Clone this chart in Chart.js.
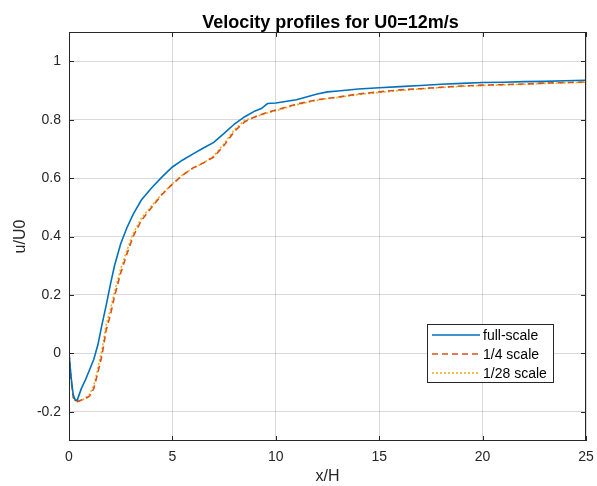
<!DOCTYPE html>
<html>
<head>
<meta charset="utf-8">
<script src="https://cdn.jsdelivr.net/npm/chart.js@4/dist/chart.umd.min.js"></script>
<style>
  html, body { margin: 0; padding: 0; background: #fff; }
  #wrap { width: 597px; height: 486px; }
</style>
</head>
<body>
<div id="wrap"><canvas id="grafica" width="597" height="486"></canvas></div>
<script>
// datos
const xH = [0, 0.1, 0.2, 0.3, 0.4, 0.6, 0.8, 1.0, 1.2, 1.4, 1.6, 1.8, 2.0, 2.2, 2.5, 2.8, 3.1, 3.5,
  4.0, 4.5, 5.0, 5.5, 6.0, 6.5, 7.0, 7.5, 8.0, 8.5, 9.0, 9.3, 9.6, 10, 11, 12, 12.5, 13, 14, 15,
  16, 17, 18, 19, 20, 21, 22, 23, 24, 25];

const fullScale = [0, -0.08, -0.14, -0.16, -0.16, -0.12, -0.09, -0.055, -0.02, 0.03, 0.10, 0.165,
  0.235, 0.30, 0.375, 0.43, 0.476, 0.525, 0.567, 0.604, 0.638, 0.662, 0.683, 0.703, 0.722, 0.753,
  0.785, 0.81, 0.83, 0.838, 0.855, 0.857, 0.868, 0.888, 0.895, 0.898, 0.905, 0.909, 0.913, 0.917,
  0.921, 0.924, 0.927, 0.928, 0.930, 0.931, 0.933, 0.935];

const scale4 = [0, -0.09, -0.15, -0.163, -0.165, -0.16, -0.155, -0.146, -0.12, -0.065, -0.005, 0.08,
  0.13, 0.195, 0.275, 0.34, 0.40, 0.455, 0.50, 0.544, 0.579, 0.610, 0.635, 0.652, 0.672, 0.712,
  0.760, 0.793, 0.810, 0.818, 0.825, 0.833, 0.853, 0.868, 0.873, 0.877, 0.888, 0.895, 0.902, 0.906,
  0.911, 0.915, 0.918, 0.920, 0.922, 0.925, 0.927, 0.929];

const scale28 = [0, -0.09, -0.15, -0.162, -0.166, -0.162, -0.152, -0.14, -0.11, -0.05, 0.015, 0.10,
  0.15, 0.21, 0.29, 0.352, 0.41, 0.463, 0.505, 0.546, 0.581, 0.612, 0.634, 0.652, 0.676, 0.718,
  0.766, 0.798, 0.809, 0.816, 0.823, 0.830, 0.851, 0.866, 0.872, 0.876, 0.886, 0.893, 0.900, 0.905,
  0.910, 0.914, 0.917, 0.919, 0.921, 0.924, 0.926, 0.928];

const xTicks = [0, 5, 10, 15, 20, 25];
const yTicks = [-0.2, 0, 0.2, 0.4, 0.6, 0.8, 1];

const FONT = "'Liberation Sans', Arial, sans-serif";
const TXT = '#262626';

function puntos(ys) {
  return xH.map((x, i) => ({x: x, y: ys[i]}));
}

// titulo, caja de ejes, marcas hacia dentro y leyenda estilo MATLAB
const estiloMatlab = {
  id: 'estiloMatlab',
  afterDraw(chart) {
    const ctx = chart.ctx;
    const a = chart.chartArea;
    const sx = chart.scales.x, sy = chart.scales.y;
    ctx.save();

    // titulo
    ctx.fillStyle = '#000';
    ctx.font = 'bold 18px ' + FONT;
    ctx.textAlign = 'center';
    ctx.textBaseline = 'alphabetic';
    ctx.fillText('Velocity profiles for U0=12m/s', (a.left + a.right) / 2 + 3, 28);

    // caja
    ctx.strokeStyle = TXT;
    ctx.lineWidth = 1;
    ctx.strokeRect(a.left + 0.5, a.top + 0.5, a.right - a.left - 1, a.bottom - a.top - 1);

    // marcas
    const L = 5;
    ctx.beginPath();
    xTicks.forEach(v => {
      const p = Math.round(sx.getPixelForValue(v)) + 0.5;
      ctx.moveTo(p, a.bottom); ctx.lineTo(p, a.bottom - L);
      ctx.moveTo(p, a.top); ctx.lineTo(p, a.top + L);
    });
    yTicks.forEach(v => {
      const p = Math.round(sy.getPixelForValue(v)) + 0.5;
      ctx.moveTo(a.left, p); ctx.lineTo(a.left + L, p);
      ctx.moveTo(a.right, p); ctx.lineTo(a.right - L, p);
    });
    ctx.stroke();

    // leyenda
    const lx = 427, ly = 324, lw = 126, lh = 58;
    ctx.fillStyle = '#fff';
    ctx.fillRect(lx, ly, lw, lh);
    ctx.strokeStyle = '#262626';
    ctx.strokeRect(lx + 0.5, ly + 0.5, lw, lh);
    ctx.font = '14px ' + FONT;
    ctx.textAlign = 'left';
    ctx.textBaseline = 'middle';
    chart.data.datasets.forEach((ds, i) => {
      const y = ly + 11 + i * 19;
      ctx.strokeStyle = ds.borderColor;
      ctx.lineWidth = ds.borderWidth;
      ctx.setLineDash(ds.borderDash || []);
      ctx.beginPath();
      ctx.moveTo(lx + 5, y);
      ctx.lineTo(lx + 53, y);
      ctx.stroke();
      ctx.setLineDash([]);
      ctx.fillStyle = '#000';
      ctx.fillText(ds.label, lx + 56, y + 1);
    });
    ctx.restore();
  }
};

const ctx = document.getElementById('grafica').getContext('2d');
const chart = new Chart(ctx, {
  type: 'line',
  data: {
    datasets: [{
      label: 'full-scale',
      data: puntos(fullScale),
      borderColor: '#0072BD',
      borderWidth: 1.6,
      pointRadius: 0,
      fill: false
    },
    {
      label: '1/4 scale',
      data: puntos(scale4),
      borderColor: '#D95319',
      borderWidth: 1.6,
      borderDash: [6, 4],
      pointRadius: 0,
      fill: false
    },
    {
      label: '1/28 scale',
      data: puntos(scale28),
      borderColor: '#EDB120',
      borderWidth: 1.6,
      borderDash: [2, 2],
      pointRadius: 0,
      fill: false
    }]
  },
  options: {
    responsive: false,
    animation: false,
    layout: { padding: { top: 32, right: 11, left: 0, bottom: 0 } },
    plugins: { legend: { display: false }, title: { display: false }, tooltip: { enabled: false } },
    scales: {
      x: {
        type: 'linear',
        min: 0, max: 25,
        afterBuildTicks: s => { s.ticks = xTicks.map(v => ({value: v})); },
        afterFit: s => { s.height = 45; s.paddingLeft = 0; s.paddingRight = 0; },
        ticks: { color: TXT, font: { family: FONT, size: 14 }, padding: 8, maxRotation: 0,
          callback: v => String(v) },
        grid: { color: 'rgba(0,0,0,0.15)', drawTicks: false },
        border: { display: false },
        title: { display: true, text: 'x/H', color: TXT, font: { family: FONT, size: 16 },
          padding: { top: 0, bottom: 0 } }
      },
      y: {
        type: 'linear',
        min: -0.3, max: 1.1,
        afterBuildTicks: s => { s.ticks = yTicks.map(v => ({value: v})); },
        afterFit: s => { s.width = 69; s.paddingTop = 0; s.paddingBottom = 0; },
        ticks: { color: TXT, font: { family: FONT, size: 14 }, padding: 8,
          callback: v => String(Math.round(v * 10) / 10) },
        grid: { color: 'rgba(0,0,0,0.15)', drawTicks: false },
        border: { display: false },
        title: { display: true, text: 'u/U0', color: TXT, font: { family: FONT, size: 16 },
          padding: { top: 11, bottom: 0 } }
      }
    }
  },
  plugins: [estiloMatlab]
});
</script>
</body>
</html>
